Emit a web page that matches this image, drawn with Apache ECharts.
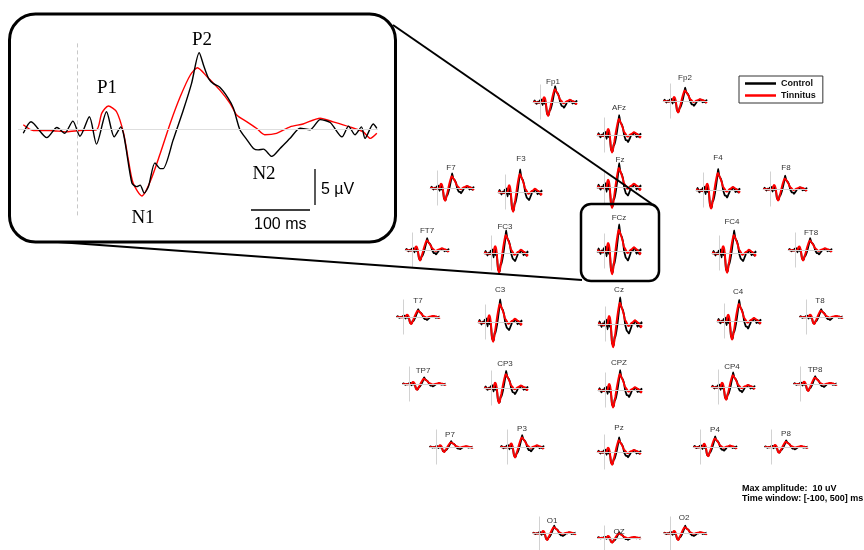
<!DOCTYPE html>
<html><head><meta charset="utf-8">
<script src="https://cdn.jsdelivr.net/npm/echarts@6/dist/echarts.min.js"></script>
<style>html,body{margin:0;background:#fff}#c{width:864px;height:550px}</style>
</head><body><div id="c"></div><script>
// Grand-average ERP at FCz (inset), time in ms, amplitude in µV
const controlTime = [-91,-78,-51,-34,-21,-7,5,21,33,50,63,74,93,101,107,114,121,132,141,146,163,180,194,207,215,223,231,242,256,265,276,288,299,307,316,330,344,361,378,395,412,429,449,460,471,482,488,502,508];
const controlAmp  = [-0.6,1.0,-1.2,0.2,-0.6,1.1,-1.0,1.7,-2.1,2.4,-1.1,0.3,-7.5,-8.0,-7.8,-8.9,-8.0,-4.7,-5.5,-5.5,-1.5,2.6,6.3,10.6,8.7,7.0,6.3,5.8,4.3,2.9,-0.1,-1.5,-2.7,-2.9,-2.8,-3.8,-2.7,-1.3,0.1,-0.1,1.3,0.9,-1.1,0.4,-0.8,0.3,-1.3,0.7,0.1];
const tinnitusTime = [-91,-74,-46,-18,5,33,42,53,67,79,87,95,110,124,141,158,175,192,204,220,242,259,271,288,304,318,338,361,383,412,434,462,485,497,508];
const tinnitusAmp  = [0.6,-0.2,-0.2,-0.4,-0.2,-0.1,2.2,3.2,2.4,-0.6,-4.3,-7.5,-9.3,-7.3,-3.4,0.8,4.5,7.5,8.5,7.3,5.4,3.6,1.9,1.0,0.1,-0.8,-0.6,0.3,0.7,1.5,1.0,0.3,-0.4,-1.3,-0.6];

// Electrodes and their relative response amplitude (FCz = 1)
const electrodes = ['Fp1','Fp2','AFz','F7','F3','Fz','F4','F8','FT7','FC3','FCz','FC4','FT8','T7','C3','Cz','C4','T8','TP7','CP3','CPZ','CP4','TP8','P7','P3','Pz','P4','P8','O1','OZ','O2'];
const electrodeGain = [0.6,0.5,0.75,0.55,0.85,0.9,0.8,0.5,0.45,0.85,1.0,0.85,0.45,0.3,0.85,1.0,0.8,0.3,0.25,0.65,0.75,0.55,0.3,0.22,0.45,0.55,0.4,0.25,0.3,0.3,0.3];

// layout only: [plotLeft, baselineY, labelX, labelY]
const layout = [
 [533,102,553,82],[663,101,685,78],[597,135,619,108],
 [430,188,451,168],[498,192,521,159],[597,187,620,160],[696,190,718,158],[763,189,786,168],
 [405,250,427,231],[484,253,505,227],[597,251,619,218],[712,253,732,222],[788,250,811,233],
 [396,317,418,301],[478,322,500,290],[598,324,619,290],[717,321,738,292],[799,317,820,301],
 [402,384,423,371],[484,388,505,364],[598,390,619,363],[711,387,732,367],[793,384,815,370],
 [429,447,450,435],[500,447,522,429],[597,452,619,428],[693,447,715,430],[764,447,786,434],
 [532,534,552,521],[597,543,619,532],[663,534,684,518]
];

const pairs = (t, v, g) => t.map((x, i) => [x, v[i] * g]);

const grids = [], xAxes = [], yAxes = [], series = [], graphics = [];
const PXUV = 2.5;
electrodes.forEach((name, i) => {
  const [left, base, lx, ly] = layout[i];
  grids.push({left: left, top: base - 7 * PXUV, width: 44, height: 14 * PXUV});
  xAxes.push({gridIndex: i, type: 'value', min: -100, max: 510, show: false});
  yAxes.push({gridIndex: i, type: 'value', min: -7, max: 7, show: false});
  series.push({
    name: 'Control', type: 'line', xAxisIndex: i, yAxisIndex: i, clip: false,
    data: pairs(controlTime, controlAmp, electrodeGain[i]), showSymbol: false, smooth: 0.25,
    lineStyle: {color: '#000', width: 1.8}, itemStyle: {color: '#000'}, z: 3,
    markLine: {silent: true, symbol: 'none', label: {show: false},
      lineStyle: {color: '#d2d2d2', width: 1, type: 'solid'},
      data: [{xAxis: 0}, {yAxis: 0}]}
  });
  series.push({
    name: 'Tinnitus', type: 'line', xAxisIndex: i, yAxisIndex: i, clip: false,
    data: pairs(tinnitusTime, tinnitusAmp, electrodeGain[i]), showSymbol: false, smooth: 0.25,
    lineStyle: {color: '#f00', width: 1.9}, itemStyle: {color: '#f00'}, z: 4
  });
  graphics.push({type: 'text', x: lx, y: ly, z: 10,
    style: {text: name, font: '8px "Liberation Sans", Arial, sans-serif', fill: '#333',
      textAlign: 'center', textVerticalAlign: 'middle'}});
});

// Inset (FCz enlarged)
const k = electrodes.length;
grids.push({left: 18, top: 42.6, width: 360, height: 172.8});
xAxes.push({gridIndex: k, type: 'value', min: -100, max: 510, show: false});
yAxes.push({gridIndex: k, type: 'value', min: -12, max: 12, show: false});
series.push({
  name: 'Tinnitus', type: 'line', xAxisIndex: k, yAxisIndex: k, clip: false,
  data: pairs(tinnitusTime, tinnitusAmp, 1), showSymbol: false, smooth: 0.25,
  lineStyle: {color: '#f00', width: 1.4}, itemStyle: {color: '#f00'}, z: 3,
  markLine: {silent: true, symbol: 'none', label: {show: false},
    data: [{xAxis: 0, lineStyle: {color: '#c8c8c8', width: 1, type: [4, 3]}},
           {yAxis: 0, lineStyle: {color: '#dedede', width: 1, type: 'solid'}}]}
});
series.push({
  name: 'Control', type: 'line', xAxisIndex: k, yAxisIndex: k, clip: false,
  data: pairs(controlTime, controlAmp, 1), showSymbol: false, smooth: 0.25,
  lineStyle: {color: '#000', width: 1.4}, itemStyle: {color: '#000'}, z: 4
});

const serif = '19px "Liberation Serif", "DejaVu Serif", serif';
const sans16 = '16px "Liberation Sans", Arial, sans-serif';
const txt = (text, x, y, font, align) => ({type: 'text', x, y, z: 10,
  style: {text, font, fill: '#000', textAlign: align || 'center', textVerticalAlign: 'middle'}});
graphics.push(
  {type: 'rect', z: 20, shape: {x: 9.5, y: 14, width: 386, height: 228, r: 26},
   style: {fill: 'none', stroke: '#000', lineWidth: 3}},
  {type: 'rect', z: 20, shape: {x: 581, y: 204, width: 78, height: 77, r: 10},
   style: {fill: 'none', stroke: '#000', lineWidth: 2.5}},
  {type: 'line', z: 20, shape: {x1: 393, y1: 25, x2: 652, y2: 204}, style: {stroke: '#000', lineWidth: 2}},
  {type: 'line', z: 20, shape: {x1: 58, y1: 242, x2: 582, y2: 280}, style: {stroke: '#000', lineWidth: 2}},
  txt('P1', 107, 88, serif), txt('P2', 202, 40, serif), txt('N1', 143, 218, serif), txt('N2', 264, 174, serif),
  txt('5 \u00b5V', 321, 190, sans16, 'left'), txt('100 ms', 254, 225, sans16, 'left'),
  {type: 'line', z: 20, shape: {x1: 315, y1: 169, x2: 315, y2: 205}, style: {stroke: '#000', lineWidth: 1.3}},
  {type: 'line', z: 20, shape: {x1: 251, y1: 210, x2: 310, y2: 210}, style: {stroke: '#000', lineWidth: 1.3}},
  txt('Max amplitude:  10 uV', 742, 489, 'bold 9px "Liberation Sans", Arial, sans-serif', 'left'),
  txt('Time window: [-100, 500] ms', 742, 499, 'bold 9px "Liberation Sans", Arial, sans-serif', 'left')
);

const chart = echarts.init(document.getElementById('c'), null, {renderer: 'canvas'});
chart.setOption({
  animation: false,
  backgroundColor: '#fff',
  legend: {
    data: ['Control', 'Tinnitus'], left: 739, top: 76, orient: 'vertical',
    icon: 'rect', itemWidth: 31, itemHeight: 2.5, itemGap: 3,
    padding: [3, 7, 3, 6], borderColor: '#333', borderWidth: 1,
    textStyle: {fontSize: 9, fontWeight: 'bold', color: '#111', fontFamily: 'Liberation Sans, Arial, sans-serif'},
    selectedMode: false
  },
  grid: grids, xAxis: xAxes, yAxis: yAxes, series: series, graphic: graphics
});
</script></body></html>
